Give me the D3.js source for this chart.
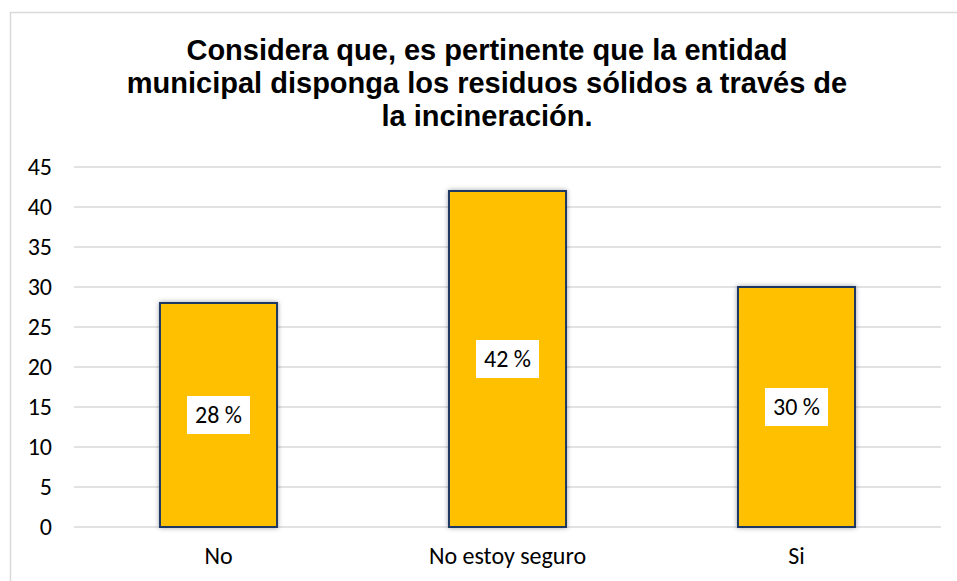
<!DOCTYPE html>
<html>
<head>
<meta charset="utf-8">
<script src="https://cdn.jsdelivr.net/npm/d3@7"></script>
<style>
  body { margin: 0; background: #fff; }
  svg { display: block; }
</style>
</head>
<body>
<div id="chart"></div>
<script>
// datos del gráfico
const titleLines = ["Considera que, es pertinente que la entidad",
                    "municipal disponga los residuos sólidos a través de",
                    "la incineración."];
const categories = ["No", "No estoy seguro", "Si"];
const values = [28, 42, 30];
const labels = ["28 %", "42 %", "30 %"];
const yTicks = [0, 5, 10, 15, 20, 25, 30, 35, 40, 45];

const width = 957, height = 581;
const labelFont = "Carlito, Calibri, Lato, sans-serif";

const svg = d3.select("#chart").append("svg")
  .attr("width", width)
  .attr("height", height);

// sombra de las barras
const defs = svg.append("defs");
defs.append("filter")
  .attr("id", "shadow")
  .attr("x", "-20%").attr("y", "-20%")
  .attr("width", "140%").attr("height", "140%")
  .append("feDropShadow")
  .attr("dx", 0).attr("dy", 0)
  .attr("stdDeviation", 2.5)
  .attr("flood-color", "#000")
  .attr("flood-opacity", 0.35);

// marco del gráfico
svg.append("rect")
  .attr("x", 10.5).attr("y", 12.5)
  .attr("width", 960).attr("height", 600)
  .attr("fill", "none")
  .attr("stroke", "#d9d9d9")
  .attr("stroke-width", 1.5);

// título
svg.append("text")
  .attr("text-anchor", "middle")
  .attr("font-family", "'Liberation Sans', Arial, sans-serif")
  .attr("font-weight", "bold")
  .attr("font-size", 29)
  .attr("fill", "#000")
  .selectAll("tspan")
  .data(titleLines)
  .join("tspan")
  .attr("x", 487)
  .attr("y", (d, i) => 60 + i * 33)
  .text(d => d);

// escalas
const X = d3.scaleBand()
  .domain(categories)
  .range([74, 941])
  .paddingInner(0.595)
  .paddingOuter(0.2975);

const Y = d3.scaleLinear()
  .domain([0, 45])
  .range([527, 167]);

// líneas de la cuadrícula
svg.append("g")
  .selectAll("line")
  .data(yTicks)
  .join("line")
  .attr("x1", 74).attr("x2", 941)
  .attr("y1", d => Y(d)).attr("y2", d => Y(d))
  .attr("stroke", "#d9d9d9")
  .attr("stroke-width", 1.5);

// eje Y
const yAxis = svg.append("g")
  .attr("transform", "translate(52,0)")
  .call(d3.axisLeft(Y).tickValues(yTicks).tickSize(0).tickPadding(0));
yAxis.select(".domain").remove();
yAxis.selectAll("text")
  .attr("font-family", labelFont)
  .attr("font-size", 24)
  .attr("fill", "#000");

// eje X
const xAxis = svg.append("g")
  .attr("transform", "translate(0,527)")
  .call(d3.axisBottom(X).tickSize(0).tickPadding(0));
xAxis.select(".domain").remove();
xAxis.selectAll("text")
  .attr("dy", null)
  .attr("y", 37)
  .attr("font-family", labelFont)
  .attr("font-size", 24)
  .attr("fill", "#000");

// barras
svg.append("g")
  .selectAll("rect")
  .data(values)
  .join("rect")
  .attr("x", (d, i) => X(categories[i]))
  .attr("y", d => Y(d))
  .attr("width", X.bandwidth())
  .attr("height", d => Y(0) - Y(d))
  .attr("fill", "#ffc000")
  .attr("stroke", "#1f3864")
  .attr("stroke-width", 2)
  .attr("filter", "url(#shadow)");

// etiquetas de datos
const lab = svg.append("g")
  .selectAll("g")
  .data(values)
  .join("g")
  .attr("transform", (d, i) =>
    "translate(" + (X(categories[i]) + X.bandwidth() / 2) + "," + ((Y(d) + Y(0)) / 2) + ")");

lab.append("rect")
  .attr("x", -31.5).attr("y", -19)
  .attr("width", 63).attr("height", 38)
  .attr("fill", "#fff");

lab.append("text")
  .attr("text-anchor", "middle")
  .attr("dy", "0.35em")
  .attr("font-family", labelFont)
  .attr("font-size", 24)
  .attr("fill", "#000")
  .text((d, i) => labels[i]);
</script>
</body>
</html>
